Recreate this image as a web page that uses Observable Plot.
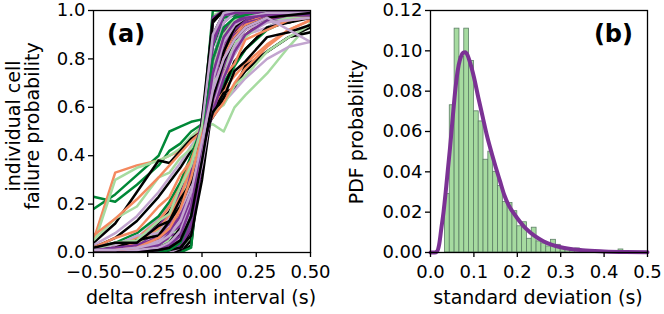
<!DOCTYPE html>
<html><head><meta charset="utf-8">
<script src="https://cdn.jsdelivr.net/npm/d3@7"></script>
<script src="https://cdn.jsdelivr.net/npm/@observablehq/plot@0.6"></script>
<style>
body{margin:0;background:#fff;}
#wrap{position:relative;width:664px;height:314px;font-family:"DejaVu Sans";}
#wrap svg{position:absolute;top:0;}
</style></head><body><div id="wrap"></div>
<script>
// ---------- panel (a): per-cell failure probability curves ----------
const xGrid = [-0.5,-0.4,-0.3,-0.2,-0.15,-0.1,-0.05,0,0.05,0.1,0.15,0.2,0.3,0.4,0.5];
const K = "#000000", P = "#7b3294", LP = "#c2a5cf", LG = "#a6dba0", G = "#008837", O = "#f4895f";
const lineColors = [G, G, O, LG, K, LP, K, LG, O, LP, K, G, P, LP, K, O, P, LP, K, G, LP, P, LG, O,
  P, LP, K, O, P, LP, K, G, P, LG, P, K, LP, P, LG, K, P, G, P, K, LP,
  P, K, LP, P, K, LP, O, P, LG, K, LP, P, G, K, P, LP, O, P, K, LP];
const lineValues = [
  [0.18,0.24,0.32,0.40,0.50,0.52,0.54,0.55,0.62,0.70,0.78,0.84,0.92,0.96,0.98],
  [0.23,0.21,0.28,0.36,0.42,0.45,0.50,0.53,0.60,0.68,0.77,0.84,0.93,0.97,0.98],
  [0.05,0.33,0.36,0.38,0.40,0.42,0.47,0.52,0.60,0.67,0.73,0.78,0.86,0.92,0.96],
  [0.03,0.30,0.35,0.38,0.40,0.43,0.48,0.52,0.53,0.50,0.60,0.65,0.74,0.85,0.95],
  [0.04,0.12,0.25,0.38,0.37,0.42,0.47,0.50,0.58,0.66,0.68,0.77,0.83,0.89,0.91],
  [0.03,0.08,0.15,0.25,0.31,0.37,0.44,0.50,0.56,0.62,0.67,0.72,0.80,0.85,0.87],
  [0.02,0.06,0.13,0.23,0.29,0.35,0.42,0.49,0.56,0.63,0.69,0.75,0.83,0.89,0.93],
  [0.05,0.14,0.19,0.31,0.33,0.39,0.43,0.50,0.58,0.61,0.69,0.73,0.83,0.89,0.94],
  [0.07,0.14,0.22,0.31,0.36,0.41,0.46,0.50,0.56,0.62,0.70,0.76,0.85,0.92,0.96],
  [0.02,0.03,0.06,0.14,0.20,0.28,0.38,0.50,0.62,0.73,0.82,0.89,0.96,0.99,0.99],
  [0.01,0.02,0.05,0.12,0.17,0.25,0.36,0.49,0.62,0.74,0.84,0.90,0.97,0.99,0.99],
  [0.02,0.04,0.08,0.15,0.21,0.29,0.40,0.52,0.64,0.75,0.84,0.90,0.96,0.98,0.98],
  [0.01,0.02,0.05,0.11,0.16,0.24,0.35,0.49,0.63,0.76,0.86,0.92,0.98,0.99,0.99],
  [0.01,0.02,0.04,0.10,0.15,0.22,0.36,0.50,0.64,0.77,0.87,0.93,0.98,0.99,0.99],
  [0.00,0.01,0.02,0.06,0.10,0.18,0.30,0.48,0.66,0.80,0.89,0.95,0.99,1.00,1.00],
  [0.01,0.03,0.06,0.13,0.19,0.27,0.38,0.51,0.63,0.74,0.83,0.90,0.97,0.99,0.99],
  [0.00,0.01,0.02,0.07,0.12,0.20,0.33,0.50,0.67,0.80,0.90,0.95,0.99,1.00,1.00],
  [0.00,0.01,0.03,0.08,0.13,0.21,0.35,0.51,0.68,0.82,0.91,0.96,0.99,1.00,1.00],
  [0.01,0.01,0.02,0.05,0.09,0.17,0.31,0.50,0.69,0.83,0.91,0.96,0.99,0.99,0.99],
  [0.00,0.00,0.01,0.04,0.09,0.18,0.33,0.50,0.68,0.83,0.93,0.97,0.99,0.98,0.98],
  [0.00,0.00,0.01,0.05,0.10,0.18,0.31,0.50,0.70,0.85,0.94,0.98,1.00,1.00,1.00],
  [0.00,0.01,0.03,0.09,0.14,0.22,0.34,0.50,0.66,0.79,0.88,0.94,0.98,0.99,1.00],
  [0.01,0.02,0.04,0.09,0.14,0.22,0.34,0.50,0.66,0.79,0.88,0.94,0.98,0.99,0.99],
  [0.01,0.02,0.04,0.10,0.15,0.23,0.35,0.51,0.68,0.81,0.90,0.95,0.98,0.99,0.99],
  [0.00,0.00,0.01,0.04,0.08,0.16,0.30,0.50,0.70,0.84,0.92,0.96,0.99,1.00,1.00],
  [0.01,0.01,0.01,0.03,0.06,0.12,0.27,0.48,0.70,0.86,0.94,0.97,0.99,0.99,0.99],
  [0.00,0.00,0.00,0.01,0.04,0.11,0.26,0.50,0.76,0.90,0.96,0.99,1.00,1.00,1.00],
  [0.00,0.00,0.01,0.03,0.07,0.16,0.32,0.52,0.72,0.86,0.94,0.98,0.99,0.99,0.99],
  [0.00,0.00,0.00,0.01,0.03,0.10,0.28,0.52,0.75,0.90,0.97,0.99,1.00,1.00,1.00],
  [0.00,0.00,0.00,0.02,0.05,0.13,0.30,0.50,0.70,0.87,0.95,0.98,1.00,1.00,1.00],
  [0.00,0.00,0.00,0.00,0.02,0.08,0.22,0.47,0.74,0.91,0.97,0.99,1.00,1.00,1.00],
  [0.00,0.00,0.00,0.00,0.01,0.03,0.18,0.50,0.85,0.97,0.98,0.98,0.98,0.98,0.98],
  [0.00,0.00,0.00,0.02,0.06,0.15,0.33,0.55,0.78,0.92,0.97,0.99,1.00,1.00,1.00],
  [0.00,0.00,0.00,0.02,0.05,0.12,0.29,0.53,0.76,0.90,0.96,0.98,0.99,0.99,0.99],
  [0.00,0.00,0.00,0.01,0.03,0.09,0.24,0.50,0.80,0.95,0.99,1.00,1.00,1.00,1.00],
  [0.00,0.00,0.00,0.00,0.00,0.00,0.03,0.40,0.90,0.99,1.00,1.00,1.00,1.00,1.00],
  [0.00,0.00,0.00,0.01,0.02,0.06,0.18,0.46,0.80,0.95,0.99,1.00,1.00,1.00,1.00],
  [0.00,0.00,0.00,0.00,0.01,0.04,0.14,0.48,0.86,0.98,1.00,1.00,1.00,1.00,1.00],
  [0.00,0.00,0.00,0.00,0.00,0.01,0.06,0.52,0.98,1.00,1.00,1.00,1.00,1.00,1.00],
  [0.00,0.00,0.00,0.00,0.00,0.00,0.05,0.45,0.95,1.00,1.00,1.00,1.00,1.00,1.00],
  [0.01,0.01,0.01,0.01,0.02,0.05,0.20,0.55,0.88,0.98,0.99,0.99,0.99,0.99,0.99],
  [0.00,0.00,0.00,0.00,0.00,0.00,0.02,0.50,1.00,1.00,1.00,1.00,1.00,1.00,1.00],
  [0.00,0.00,0.00,0.00,0.00,0.01,0.08,0.50,0.97,1.00,1.00,1.00,1.00,1.00,1.00],
  [0.00,0.00,0.00,0.00,0.00,0.01,0.10,0.55,0.96,1.00,1.00,1.00,1.00,1.00,1.00],
  [0.00,0.00,0.00,0.00,0.00,0.02,0.15,0.52,0.90,0.99,1.00,1.00,1.00,1.00,1.00],
  [0.00,0.00,0.01,0.03,0.07,0.08,0.22,0.42,0.60,0.82,0.86,0.95,0.97,0.99,0.99],
  [0.00,0.01,0.01,0.02,0.04,0.10,0.17,0.44,0.70,0.76,0.87,0.90,0.96,0.95,0.98],
  [0.02,0.03,0.07,0.08,0.14,0.17,0.29,0.45,0.62,0.77,0.82,0.90,0.93,0.97,0.98],
  [0.00,0.00,0.00,0.01,0.02,0.04,0.12,0.40,0.72,0.86,0.93,0.97,0.99,0.99,0.99],
  [0.01,0.02,0.05,0.07,0.13,0.19,0.30,0.47,0.62,0.68,0.79,0.84,0.93,0.95,0.97],
  [0.00,0.01,0.02,0.05,0.08,0.14,0.26,0.44,0.62,0.78,0.86,0.92,0.96,0.98,0.99],
  [0.02,0.06,0.09,0.19,0.23,0.32,0.38,0.50,0.61,0.73,0.78,0.88,0.92,0.96,0.97],
  [0.00,0.00,0.00,0.00,0.01,0.03,0.10,0.35,0.68,0.88,0.95,0.98,0.99,0.99,0.99],
  [0.01,0.04,0.05,0.13,0.16,0.27,0.36,0.52,0.70,0.76,0.87,0.89,0.96,0.97,0.98],
  [0.00,0.00,0.00,0.00,0.01,0.02,0.07,0.30,0.62,0.83,0.93,0.97,0.99,0.99,0.99],
  [0.00,0.00,0.01,0.01,0.04,0.06,0.18,0.36,0.62,0.73,0.85,0.90,0.95,0.96,0.97],
  [0.01,0.02,0.03,0.06,0.09,0.15,0.25,0.42,0.58,0.72,0.83,0.90,0.96,0.98,0.98],
  [0.00,0.00,0.00,0.00,0.01,0.04,0.15,0.45,0.80,0.93,0.97,0.98,0.98,0.98,0.98],
  [0.02,0.04,0.04,0.11,0.13,0.22,0.29,0.43,0.58,0.64,0.75,0.79,0.89,0.91,0.94],
  [0.00,0.01,0.03,0.03,0.08,0.11,0.25,0.40,0.63,0.77,0.90,0.93,0.98,0.98,0.99],
  [0.00,0.00,0.01,0.02,0.04,0.09,0.20,0.43,0.71,0.87,0.94,0.97,0.99,0.99,0.99],
  [0.00,0.01,0.02,0.06,0.10,0.18,0.31,0.48,0.66,0.80,0.89,0.94,0.97,0.98,0.98],
  [0.00,0.00,0.00,0.01,0.03,0.07,0.19,0.45,0.74,0.89,0.95,0.97,0.98,0.98,0.98],
  [0.00,0.00,0.00,0.01,0.02,0.05,0.15,0.38,0.64,0.79,0.88,0.93,0.97,0.98,0.99],
  [0.01,0.01,0.02,0.04,0.07,0.13,0.25,0.46,0.67,0.80,0.88,0.93,0.97,0.92,0.87]
];
const xTicksA = [-0.5,-0.25,0,0.25,0.5];
const yTicksA = [0,0.2,0.4,0.6,0.8,1.0];

// ---------- panel (b): histogram of standard deviations + fit ----------
const binWidth = 0.01111;
const binLeft = [0.0333,0.0444,0.0556,0.0667,0.0778,0.0889,0.1000,0.1111,0.1222,0.1333,0.1444,0.1556,
  0.1667,0.1778,0.1889,0.2000,0.2111,0.2222,0.2333,0.2444,0.2556,0.2667,0.2778,0.2889,0.3000,0.3111,
  0.3222,0.3333,0.3444,0.3556,0.3667,0.3778,0.3889,0.4000,0.4111,0.4222,0.4333];
const binPdf = [0.029,0.073,0.111,0.097,0.111,0.095,0.070,0.065,0.046,0.050,0.040,0.033,
  0.025,0.0245,0.0205,0.013,0.015,0.0068,0.0123,0.0055,0.0045,0.003,0.0063,0.0038,0.0025,0.0018,
  0.0012,0.002,0.0008,0.0006,0.0004,0.0003,0.0003,0.0,0.0002,0.0,0.0015];
const fitX = [0,0.01,0.015,0.02,0.025,0.03,0.035,0.04,0.045,0.05,0.055,0.06,0.065,0.07,0.075,0.08,0.085,0.09,
  0.1,0.11,0.12,0.13,0.14,0.15,0.16,0.17,0.18,0.19,0.2,0.22,0.24,0.26,0.28,0.3,0.35,0.4,0.45,0.5];
const fitY = [0,0,0.0005,0.004,0.012,0.020,0.030,0.041,0.052,0.064,0.076,0.086,0.093,0.097,0.099,0.0993,0.098,0.095,
  0.087,0.077,0.0675,0.058,0.050,0.0425,0.0355,0.0285,0.0235,0.020,0.017,0.0118,0.0082,0.0056,0.0038,0.0026,0.0011,0.0005,0.0002,0.0001];
const xTicksB = [0,0.1,0.2,0.3,0.4,0.5];
const yTicksB = [0,0.02,0.04,0.06,0.08,0.10,0.12];

// ---------- build ----------
const lineData = lineValues.flatMap((vals, i) => vals.map((v, j) => ({id: i, x: xGrid[j], y: v, color: lineColors[i]})));
const bars = binLeft.map((l, i) => ({x1: l, x2: l + binWidth, y: binPdf[i]}));
const fit = fitX.map((x, i) => ({x, y: fitY[i]}));

const style = {fontFamily: "DejaVu Sans", fontSize: "18px", color: "black", background: "white", overflow: "visible"};

const A = Plot.plot({
  width: 330, height: 314, marginLeft: 93, marginRight: 20, marginTop: 10, marginBottom: 62,
  style,
  x: {domain: [-0.5, 0.5]}, y: {domain: [0, 1]}, color: {type: "identity"},
  marks: [
    Plot.line(lineData, {x: "x", y: "y", z: "id", stroke: "color", strokeWidth: 2.5, clip: true}),
    Plot.frame({stroke: "black", strokeWidth: 1.3}),
    Plot.axisX({ticks: xTicksA, tickFormat: d3.format(".2f"), tickSize: 5, tickPadding: 8, strokeWidth: 1.3, label: null}),
    Plot.axisY({ticks: yTicksA, tickFormat: d3.format(".1f"), tickSize: 5, tickPadding: 3, strokeWidth: 1.3, label: null})
  ]
});

const B = Plot.plot({
  width: 334, height: 314, marginLeft: 100, marginRight: 17, marginTop: 10, marginBottom: 62,
  style,
  x: {domain: [0, 0.5]}, y: {domain: [0, 0.12]},
  marks: [
    Plot.rectY(bars, {x1: "x1", x2: "x2", y: "y", fill: "#a6dba0", stroke: "#5d7f66", strokeWidth: 0.8, insetLeft: 0, insetRight: 0}),
    Plot.line(fit, {x: "x", y: "y", stroke: "#7b3294", strokeWidth: 4, curve: "monotone-x"}),
    Plot.frame({stroke: "black", strokeWidth: 1.3}),
    Plot.axisX({ticks: xTicksB, tickFormat: d3.format(".1f"), tickSize: 5, tickPadding: 8, strokeWidth: 1.3, label: null}),
    Plot.axisY({ticks: yTicksB, tickFormat: d3.format(".2f"), tickSize: 5, tickPadding: 3, strokeWidth: 1.3, label: null})
  ]
});

const wrap = document.getElementById("wrap");
A.style.left = "0px"; B.style.left = "330px";
wrap.appendChild(A); wrap.appendChild(B);

function addText(svg, txt, x, y, opts = {}) {
  const t = d3.select(svg).append("text").text(txt)
    .attr("font-family", "DejaVu Sans").attr("font-size", opts.size || 19)
    .attr("text-anchor", opts.anchor || "middle").attr("fill", "black");
  if (opts.weight) t.attr("font-weight", opts.weight);
  if (opts.rotate) t.attr("transform", `translate(${x},${y}) rotate(-90)`);
  else t.attr("x", x).attr("y", y);
}
addText(A, "delta refresh interval (s)", 201, 304);
addText(A, "individual cell", 20, 126, {rotate: true});
addText(A, "failure probability", 39, 126, {rotate: true});
addText(A, "(a)", 107, 42, {size: 24, weight: "bold", anchor: "start"});
addText(B, "standard deviation (s)", 208, 304);
addText(B, "PDF probability", 33, 132, {rotate: true});
addText(B, "(b)", 303, 42, {size: 24, weight: "bold", anchor: "end"});
</script></body></html>
